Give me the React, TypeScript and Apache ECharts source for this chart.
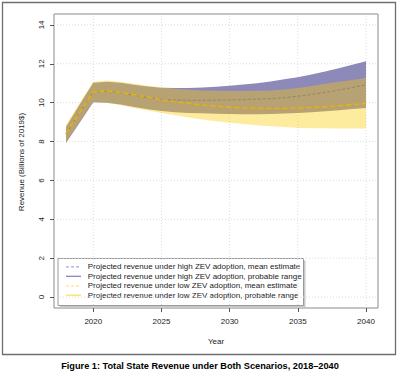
import React, { useEffect, useRef } from "react";
import * as echarts from "echarts";

const years = [2018, 2019, 2020, 2021, 2022, 2023, 2024, 2025, 2026, 2027, 2028, 2029, 2030, 2031, 2032, 2033, 2034, 2035, 2036, 2037, 2038, 2039, 2040];
const highUpper = [8.75, 9.9, 11.02, 11.08, 11.02, 10.92, 10.83, 10.77, 10.75, 10.76, 10.78, 10.82, 10.87, 10.93, 11.0, 11.09, 11.2, 11.31, 11.45, 11.6, 11.77, 11.95, 12.13];
const highLower = [7.92, 8.97, 10.02, 10.0, 9.9, 9.78, 9.66, 9.57, 9.51, 9.47, 9.45, 9.43, 9.42, 9.41, 9.41, 9.42, 9.44, 9.47, 9.51, 9.56, 9.61, 9.67, 9.73];
const lowUpper = [8.85, 9.98, 11.08, 11.14, 11.08, 10.97, 10.87, 10.79, 10.72, 10.67, 10.63, 10.61, 10.6, 10.6, 10.61, 10.63, 10.68, 10.76, 10.86, 10.97, 11.07, 11.17, 11.27];
const lowLower = [7.95, 9.0, 10.05, 10.0, 9.87, 9.73, 9.6, 9.47, 9.35, 9.24, 9.14, 9.05, 8.97, 8.9, 8.84, 8.79, 8.75, 8.71, 8.69, 8.68, 8.67, 8.67, 8.67];
const highMean = [8.4, 9.5, 10.55, 10.58, 10.5, 10.38, 10.26, 10.17, 10.13, 10.12, 10.12, 10.13, 10.14, 10.16, 10.18, 10.21, 10.26, 10.33, 10.42, 10.53, 10.65, 10.78, 10.92];
const lowMean = [8.42, 9.5, 10.56, 10.6, 10.52, 10.4, 10.28, 10.15, 10.05, 9.96, 9.88, 9.82, 9.77, 9.73, 9.71, 9.7, 9.7, 9.72, 9.75, 9.79, 9.84, 9.9, 9.97];

const xTicks = [2020, 2025, 2030, 2035, 2040];
const yTicks = [0, 2, 4, 6, 8, 10, 12, 14];

const legendLabels = [
  "Projected revenue under high ZEV adoption, mean estimate",
  "Projected revenue under high ZEV adoption, probable range",
  "Projected revenue under low ZEV adoption, mean estimate",
  "Projected revenue under low ZEV adoption, probable range",
];
const caption = "Figure 1: Total State Revenue under Both Scenarios, 2018\u20132040";
const yTitle = "Revenue (Billions of 2019$)";
const xTitle = "Year";

const FONT = "'Liberation Sans', Arial, sans-serif";

const X_MIN = 2017.12;
const X_MAX = 2040.88;
const Y_MIN = -0.56;
const Y_MAX = 14.56;

function bandSeries(upper: number[], lower: number[], fill: string, z: number) {
  return {
    type: "custom",
    silent: true,
    z,
    data: [[0]],
    renderItem: (_params: any, api: any) => {
      const top = years.map((y, i) => api.coord([y, upper[i]]));
      const bottom = years.map((y, i) => api.coord([y, lower[i]])).reverse();
      return {
        type: "polygon",
        shape: { points: [...top, ...bottom] },
        style: { fill },
      };
    },
  };
}

function gridSeries() {
  return {
    type: "custom",
    silent: true,
    z: 1,
    data: [[0]],
    renderItem: (_params: any, api: any) => {
      const children: any[] = [];
      const st = { stroke: "#dcdcdc", lineWidth: 1, lineDash: [1, 2] };
      xTicks.forEach((v) => {
        const a = api.coord([v, Y_MIN]);
        const b = api.coord([v, Y_MAX]);
        children.push({ type: "line", shape: { x1: a[0], y1: a[1], x2: b[0], y2: b[1] }, style: st });
      });
      yTicks.forEach((v) => {
        const a = api.coord([X_MIN, v]);
        const b = api.coord([X_MAX, v]);
        children.push({ type: "line", shape: { x1: a[0], y1: a[1], x2: b[0], y2: b[1] }, style: st });
      });
      return { type: "group", children };
    },
  };
}

export default function App() {
  const ref = useRef<HTMLDivElement>(null);
  useEffect(() => {
    if (!ref.current) return;
    const chart = echarts.init(ref.current, null, { renderer: "svg" });
    const pts = (arr: number[]) => years.map((y, i) => [y, arr[i]]);

    const legendStyles = [
      { stroke: "#a9a6dd", lineDash: [3, 2], lineWidth: 1.2 },
      { stroke: "#7d7bc0", lineDash: null, lineWidth: 1.2 },
      { stroke: "#fde68a", lineDash: [3, 2], lineWidth: 1.2 },
      { stroke: "#fde04a", lineDash: null, lineWidth: 1.2 },
    ];
    const rowY = [266.9, 276.3, 285.8, 295.2];
    const legendChildren: any[] = [
      { type: "rect", shape: { x: 60, y: 260.5, width: 245.5, height: 47 }, style: { fill: "#c8c8c8" } },
      { type: "rect", shape: { x: 58, y: 258.5, width: 245.5, height: 47 }, style: { fill: "#fff", stroke: "#9a9a9a", lineWidth: 1 } },
    ];
    legendLabels.forEach((t, i) => {
      legendChildren.push({
        type: "line",
        shape: { x1: 66, y1: rowY[i], x2: 81, y2: rowY[i] },
        style: legendStyles[i],
      });
      legendChildren.push({
        type: "text",
        x: 87.7,
        y: rowY[i],
        style: { text: t, font: `8px ${FONT}`, fill: "#222", align: "left", verticalAlign: "middle" },
      });
    });

    chart.setOption({
      animation: false,
      backgroundColor: "#fff",
      textStyle: { fontFamily: FONT },
      grid: { left: 54, top: 14, width: 324, height: 294, show: true, borderColor: "#8a8a8a", borderWidth: 1, backgroundColor: "transparent" },
      xAxis: {
        type: "value",
        min: X_MIN,
        max: X_MAX,
        axisLine: { show: false, onZero: false },
        splitLine: { show: false },
        axisTick: { show: true, length: 4, customValues: xTicks, lineStyle: { color: "#555" } },
        axisLabel: { customValues: xTicks, fontSize: 8, color: "#222", margin: 9, fontFamily: FONT, formatter: (v: number) => String(v) },
      },
      yAxis: {
        type: "value",
        min: Y_MIN,
        max: Y_MAX,
        axisLine: { show: false, onZero: false },
        splitLine: { show: false },
        axisTick: { show: true, length: 4, customValues: yTicks, lineStyle: { color: "#555" } },
        axisLabel: { customValues: yTicks, fontSize: 8, color: "#222", margin: 9, rotate: 90, fontFamily: FONT, formatter: (v: number) => String(v) },
      },
      graphic: [
        { type: "rect", shape: { x: 2.5, y: 2.5, width: 393, height: 352 }, style: { fill: "none", stroke: "#6e6e6e", lineWidth: 1.3 }, z: 100 },
        { type: "text", x: 21, y: 162, rotation: Math.PI / 2, style: { text: yTitle, font: `8px ${FONT}`, fill: "#222", align: "center", verticalAlign: "middle" } },
        { type: "text", x: 216, y: 341.7, style: { text: xTitle, font: `8px ${FONT}`, fill: "#222", align: "center", verticalAlign: "middle" } },
        { type: "text", x: 200, y: 366, style: { text: caption, font: `bold 9.2px ${FONT}`, fill: "#000", align: "center", verticalAlign: "middle" } },
        { type: "group", children: legendChildren, z: 50 },
      ],
      series: [
        gridSeries(),
        bandSeries(highUpper, highLower, "rgb(141,137,185)", 2),
        {
          type: "line",
          z: 3,
          data: pts(highMean),
          symbol: "none",
          lineStyle: { color: "rgb(95,90,160)", width: 1, type: [3, 2] },
        },
        bandSeries(lowUpper, lowLower, "rgba(250,203,0,0.38)", 4),
        {
          type: "line",
          z: 5,
          data: pts(lowMean),
          symbol: "none",
          lineStyle: { color: "#e8b20c", width: 1.6, type: [5, 3] },
        },
      ],
    });
    return () => chart.dispose();
  }, []);
  return <div ref={ref} style={{ position: "fixed", left: 0, top: 0, width: 400, height: 376 }} />;
}
